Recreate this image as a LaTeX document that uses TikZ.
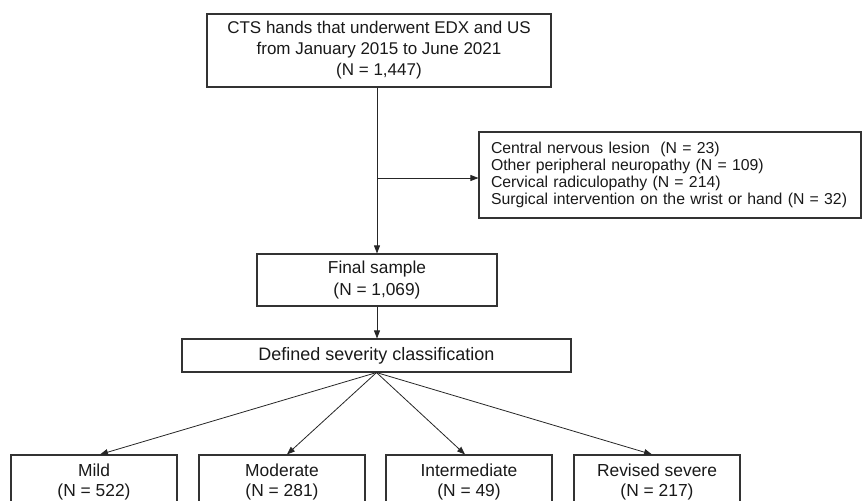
\documentclass[tikz,border=0pt]{standalone}
\usepackage{fontspec}
\setmainfont{Liberation Sans}
\usetikzlibrary{arrows.meta}
\begin{document}
\begin{tikzpicture}[x=1pt,y=-1pt,
  box/.style={draw=black!80, line width=1.1pt, inner sep=0pt, align=center, text=black!90},
  conn/.style={draw=black!85, line width=0.8pt, -{Triangle[length=8pt,width=6pt]}},
  plain/.style={draw=black!85, line width=0.8pt},
  big/.style={font=\fontsize{17}{21}\selectfont},
]
\useasboundingbox (0,0) rectangle (863,501);
\node[box, big, minimum width=344pt, minimum height=73pt] (top) at (379,50.5)
  {CTS hands that underwent EDX and US\\from January 2015 to June 2021\\(N = 1,447)};
\node[box, font=\fontsize{15.8}{17}\selectfont, align=left, text width=358pt, inner xsep=12pt,
  minimum height=86pt] (excl) at (670,175)
  {Central nervous lesion\ \ (N = 23)\\Other peripheral neuropathy (N = 109)\\Cervical radiculopathy (N = 214)\\Surgical intervention on the wrist or hand (N = 32)};
\node[box, font=\fontsize{17.3}{22}\selectfont, minimum width=240pt, minimum height=52pt] (final) at (377,280)
  {Final sample\\(N = 1,069)};
\node[box, font=\fontsize{18}{21}\selectfont, minimum width=389pt, minimum height=33pt] (sev) at (376.5,355.5)
  {Defined severity classification};
\node[box, font=\fontsize{17.4}{20}\selectfont, minimum width=166pt, minimum height=54pt] (mild) at (94,482)
  {Mild\\(N = 522)};
\node[box, font=\fontsize{17.4}{20}\selectfont, minimum width=166pt, minimum height=54pt] (mod) at (282,482)
  {Moderate\\(N = 281)};
\node[box, font=\fontsize{17.4}{20}\selectfont, minimum width=166pt, minimum height=54pt] (inter) at (469,482)
  {Intermediate\\(N = 49)};
\node[box, font=\fontsize{17.4}{20}\selectfont, minimum width=166pt, minimum height=54pt] (rev) at (657,482)
  {Revised severe\\(N = 217)};
\coordinate (br) at (377,178);
\draw[conn] (top.south -| final.north) -- (final.north);
\draw[conn] (br) -- (br -| excl.west);
\draw[conn] (final.south) -- (sev.north -| final.south);
\draw[conn] (sev.south) -- ([xshift=6pt]mild.north);
\draw[conn] (sev.south) -- ([xshift=5pt]mod.north);
\draw[conn] (sev.south) -- ([xshift=-4pt]inter.north);
\draw[conn] (sev.south) -- ([xshift=-5pt]rev.north);
\end{tikzpicture}
\end{document}
